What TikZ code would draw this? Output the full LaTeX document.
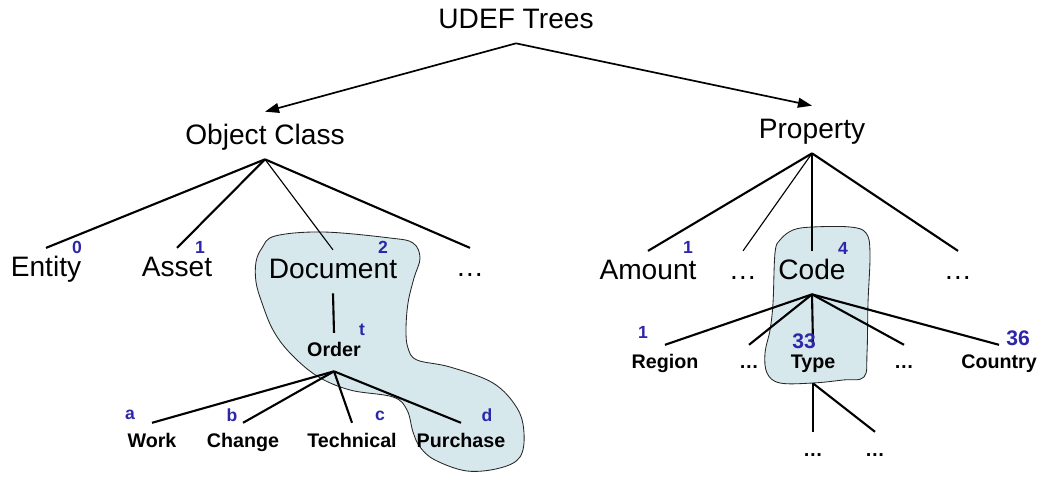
\documentclass[tikz,border=0pt]{standalone}
\usepackage{fontspec}
\setmainfont{Liberation Sans}
\usetikzlibrary{arrows.meta}

\definecolor{udefblue}{RGB}{46,38,170}
\definecolor{blobfill}{RGB}{214,232,236}

\tikzset{
	bigtext/.style={font=\fontsize{20}{24}\selectfont, anchor=base, text height=14.5pt, text depth=4pt, inner xsep=2pt, inner ysep=6pt},
	smalltext/.style={font=\fontsize{14}{17}\selectfont\bfseries, anchor=base, text height=10pt, text depth=3pt, inner xsep=2pt, inner ysep=7pt},
	numtag/.style={font=\fontsize{12.5}{15}\selectfont\bfseries, text=udefblue, inner sep=0pt},
	branch/.style={line width=1.5pt},
	twig/.style={line width=0.8pt},
	blob/.style={fill=blobfill, draw=black!85, line width=0.6pt},
}

\begin{document}
\begin{tikzpicture}[x=0.025cm, y=-0.025cm]
	\useasboundingbox[fill=white] (0,0) rectangle (1043,477);

	% highlighted paths
	\draw[blob] plot[smooth cycle, tension=0.6] coordinates {
		(256,262) (262,248) (275,236) (323,232) (390,238) (413,243) (420,258)
		(414,278) (408,303) (406,330) (408,348) (417,360) (450,367) (493,383)
		(517,408) (524,433) (520,457) (500,468) (467,471) (435,460) (420,447)
		(413,432) (407,410) (393,397) (350,390) (317,376) (290,353) (273,330)
		(262,303) (256,282)};
	\draw[blob] plot[smooth cycle, tension=0.6] coordinates {
		(775,253) (780,240) (793,230) (813,227) (850,227) (866,233) (870,253)
		(868,303) (867,353) (864,377) (843,380) (813,383) (780,383) (767,373)
		(765,353) (770,330) (773,303)};

	% root
	\node[bigtext] (udef) at (516,29) {UDEF Trees};
	\node[bigtext, text height=17.5pt] (objclass) at (265,145) {Object Class};
	\node[bigtext, text height=17.5pt] (property) at (812,139) {Property};

	\draw[line width=1.2pt, -{Triangle[length=10pt,width=7pt]}] (udef.south) -- (objclass.north);
	\draw[line width=1.2pt, -{Triangle[length=10pt,width=7pt]}] (udef.south) -- (property.north);

	% object class tree
	\node[bigtext] (entity) at (46,277) {Entity};
	\node[bigtext] (asset) at (177,277) {Asset};
	\node[bigtext] (document) at (333,279) {Document};
	\node[bigtext] (ocdots) at (470,277) {…};

	\node[smalltext] (order) at (334,357) {Order};
	\node[smalltext] (work) at (152,447) {Work};
	\node[smalltext] (change) at (243,447) {Change};
	\node[smalltext] (technical) at (352,447) {Technical};
	\node[smalltext] (purchase) at (461,447) {Purchase};

	\draw[branch] (objclass.south) -- (entity.north);
	\draw[branch] (objclass.south) -- (asset.north);
	\draw[twig] (objclass.south) -- (document.north);
	\draw[branch] (objclass.south) -- (ocdots.north);
	\draw[branch] (document.south) -- (order.north);
	\foreach \leaf in {work,change,technical,purchase}
		\draw[branch] (order.south) -- (\leaf.north);

	\node[numtag] (n0) at (77,247) {0};
	\node[numtag] (n1) at (200,247) {1};
	\node[numtag] (n2) at (383,247) {2};
	\node[numtag] (nt) at (362,330) {t};
	\node[numtag] (na) at (130,415) {a};
	\node[numtag] (nb) at (232,415) {b};
	\node[numtag] (nc) at (380,416) {c};
	\node[numtag] (nd) at (487,415) {d};

	% property tree
	\node[bigtext] (amount) at (648,280) {Amount};
	\node[bigtext] (pdotsa) at (743,280) {…};
	\node[bigtext] (code) at (812,280) {Code};
	\node[bigtext] (pdotsb) at (958,280) {…};

	\node[smalltext] (region) at (665,369) {Region};
	\node[smalltext] (cdotsa) at (749,369) {…};
	\node[smalltext] (type) at (813,369) {Type};
	\node[smalltext] (cdotsb) at (904,369) {…};
	\node[smalltext] (country) at (999,369) {Country};

	\node[smalltext] (tdotsa) at (813,456) {…};
	\node[smalltext] (tdotsb) at (875,456) {…};

	\draw[branch] (property.south) -- (amount.north);
	\draw[twig] (property.south) -- (pdotsa.north);
	\draw[branch] (property.south) -- (code.north);
	\draw[branch] (property.south) -- (pdotsb.north);
	\foreach \leaf in {region,cdotsa,type,cdotsb,country}
		\draw[branch] (code.south) -- (\leaf.north);
	\draw[branch] (type.south) -- (tdotsa.north);
	\draw[branch] (type.south) -- (tdotsb.north);

	\node[numtag] (m1) at (688,247) {1};
	\node[numtag] (m4) at (843,248) {4};
	\node[numtag] (r1) at (643,332) {1};
	\node[numtag, font=\fontsize{15}{18}\selectfont\bfseries] (r33) at (804,341) {33};
	\node[numtag, font=\fontsize{15}{18}\selectfont\bfseries] (r36) at (1018,338) {36};
\end{tikzpicture}
\end{document}
